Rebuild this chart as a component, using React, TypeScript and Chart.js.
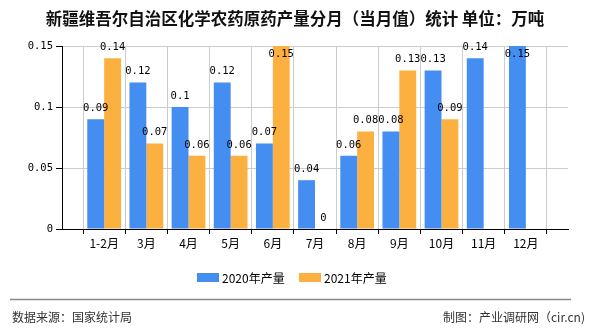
import React, { useEffect, useRef } from "react";
import { Chart, registerables } from "chart.js";

Chart.register(...registerables);

const categories = ["", "1-2月", "3月", "4月", "5月", "6月", "7月", "8月", "9月", "10月", "11月", "12月", ""];
const series2020 = [null, 0.09, 0.12, 0.1, 0.12, 0.07, 0.04, 0.06, 0.08, 0.13, 0.14, 0.15, null];
const series2021 = [null, 0.14, 0.07, 0.06, 0.06, 0.15, 0, 0.08, 0.13, 0.09, null, null, null];
const seriesNames = ["2020年产量", "2021年产量"];
const seriesColors = ["#438ef0", "#fbb03f"];
const yMax = 0.15;
const yStep = 0.05;
const titleText = "新疆维吾尔自治区化学农药原药产量分月（当月值）统计 单位：万吨";
const sourceText = "数据来源：国家统计局";
const creditText = "制图：产业调研网（cir.cn)";

const CJK = "'Noto Sans CJK SC', 'Noto Sans', sans-serif";
const MONO = "'DejaVu Sans Mono', monospace";

const decorPlugin = {
  id: "decor",
  afterDatasetsDraw(chart: any) {
    const ctx = chart.ctx;
    const area = chart.chartArea;
    ctx.save();
    ctx.font = `10.5px ${MONO}`;
    ctx.fillStyle = "#000";
    ctx.textAlign = "center";
    ctx.textBaseline = "middle";
    chart.data.datasets.forEach((ds: any, di: number) => {
      const meta = chart.getDatasetMeta(di);
      meta.data.forEach((bar: any, i: number) => {
        const v = ds.data[i];
        if (v === null || v === undefined) return;
        let y = bar.y - 11;
        if (y < area.top - 3) y = bar.y + 8;
        ctx.fillText(String(v), bar.x, y);
      });
    });
    ctx.restore();
  },
  afterDraw(chart: any) {
    const ctx = chart.ctx;
    ctx.save();
    ctx.font = `bold 16.5px ${CJK}`;
    ctx.fillStyle = "#111";
    ctx.textAlign = "center";
    ctx.textBaseline = "middle";
    ctx.fillText(titleText, 295, 19);
    ctx.font = `12px ${CJK}`;
    ctx.textAlign = "left";
    const legendX = [197, 299];
    seriesNames.forEach((name, i) => {
      ctx.fillStyle = seriesColors[i];
      ctx.fillRect(legendX[i], 273, 22, 9);
      ctx.fillStyle = "#000";
      ctx.fillText(name, legendX[i] + 25, 278);
    });
    ctx.strokeStyle = "#888";
    ctx.lineWidth = 1.5;
    ctx.beginPath();
    ctx.moveTo(10, 299.5);
    ctx.lineTo(571, 299.5);
    ctx.stroke();
    ctx.fillStyle = "#333";
    ctx.font = `12px ${CJK}`;
    ctx.textAlign = "left";
    ctx.fillText(sourceText, 12, 317);
    ctx.textAlign = "right";
    ctx.fillText(creditText, 585, 317);
    ctx.restore();
  },
};

export default function App() {
  const ref = useRef<HTMLCanvasElement | null>(null);
  useEffect(() => {
    if (!ref.current) return;
    const chart = new Chart(ref.current, {
      type: "bar",
      data: {
        labels: categories,
        datasets: [
          {
            label: seriesNames[0],
            data: series2020,
            backgroundColor: seriesColors[0],
            categoryPercentage: 0.8,
            barPercentage: 1,
          },
          {
            label: seriesNames[1],
            data: series2021,
            backgroundColor: seriesColors[1],
            categoryPercentage: 0.8,
            barPercentage: 1,
          },
        ],
      },
      options: {
        responsive: false,
        animation: false,
        devicePixelRatio: 1,
        layout: { padding: { left: 0, top: 46, right: 22, bottom: 71 } },
        plugins: {
          legend: { display: false },
          title: { display: false },
          tooltip: { enabled: false },
        },
        scales: {
          x: {
            type: "category",
            offset: false,
            grid: { color: "#cccccc", tickColor: "#000", tickLength: 5, lineWidth: 1 },
            border: { color: "#000", width: 1 },
            ticks: {
              autoSkip: false,
              maxRotation: 0,
              padding: 2,
              color: "#000",
              font: { size: 12, family: CJK },
            },
            afterFit: (s: any) => {
              s.height = 30;
            },
          },
          y: {
            min: 0,
            max: yMax,
            grid: { color: "#cccccc", tickColor: "#000", tickLength: 6, lineWidth: 1 },
            border: { color: "#000", width: 1 },
            ticks: {
              stepSize: yStep,
              padding: 3,
              color: "#000",
              font: { size: 10.5, family: MONO },
              callback: (v: any) => String(+Number(v).toFixed(2)),
            },
            afterFit: (s: any) => {
              s.width = 62;
            },
          },
        },
      },
      plugins: [decorPlugin],
    });
    return () => chart.destroy();
  }, []);
  return (
    <div style={{ position: "fixed", left: 0, top: 0, width: 590, height: 330, background: "#fff" }}>
      <canvas ref={ref} width={590} height={330} style={{ width: 590, height: 330, display: "block" }} />
    </div>
  );
}
